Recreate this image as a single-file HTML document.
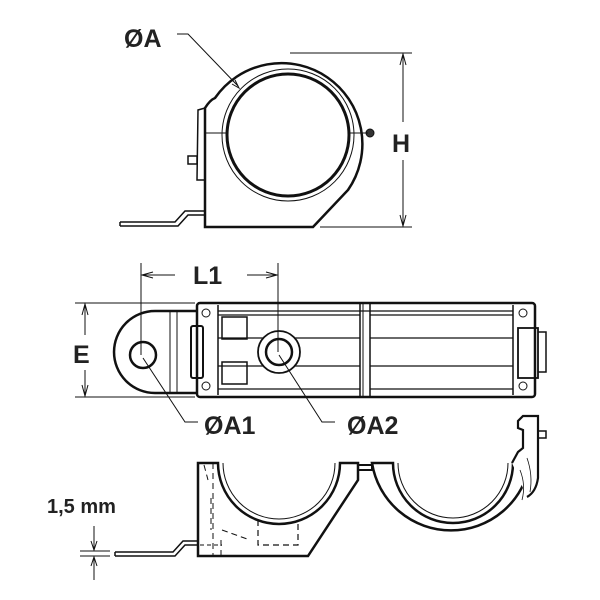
<!DOCTYPE html>
<html><head><style>body{margin:0;background:#fff}svg{display:block}text{font-family:"Liberation Sans",sans-serif;font-weight:bold;fill:#222}</style></head><body>
<svg width="600" height="600" viewBox="0 0 600 600" fill="none" stroke="#111" stroke-width="2">
<!-- TOP VIEW -->
<path d="M205 227 L205 108 Q210 100 215 98 A80 80 0 1 1 348 190 L313 227 Z" stroke-width="2.5" fill="#fff"/>
<circle cx="288" cy="135" r="61" stroke-width="3"/>
<circle cx="288" cy="135" r="66" stroke-width="1"/>
<path d="M205 108 L198 110 L197 180 L205 180" stroke-width="1.5"/>
<rect x="188" y="156" width="9" height="8" stroke-width="1.5"/>
<path d="M120 226 L178 226 L188 215 L205 215 M120 222 L175 222 L185 211 L205 211 M120 222 L120 226" stroke-width="1.5"/>
<circle cx="370" cy="133" r="4" fill="#333" stroke-width="1"/>
<line x1="205" y1="133" x2="227" y2="133" stroke-width="1"/>
<line x1="349" y1="133" x2="368" y2="133" stroke-width="1"/>
<line x1="290" y1="53" x2="412" y2="53" stroke-width="1"/>
<line x1="320" y1="227" x2="412" y2="227" stroke-width="1"/>
<line x1="403" y1="55" x2="403" y2="122" stroke-width="1"/>
<line x1="403" y1="160" x2="403" y2="225" stroke-width="1"/>
<path d="M400 65 L403 54 L406 65 M400 215 L403 226 L406 215" stroke-width="1"/>
<path d="M177 34 L188 34 L238 86" stroke-width="1"/>
<path d="M232 84 L239 88 L235 80" stroke-width="1"/>
<text x="124" y="47" font-size="25" stroke="none">ØA</text>
<text x="392" y="152" font-size="25" stroke="none">H</text>
<!-- MIDDLE VIEW -->
<path d="M197 311 L155 311 A41 41 0 0 0 155 393 L197 393" stroke-width="2.5" fill="#fff"/>
<rect x="197" y="303" width="338" height="94" rx="3" stroke-width="2.5" fill="#fff"/>
<line x1="170" y1="311" x2="170" y2="393" stroke-width="1"/>
<line x1="177" y1="311" x2="177" y2="393" stroke-width="1"/>
<circle cx="143" cy="355" r="13" stroke-width="2.5"/>
<rect x="191" y="326" width="12" height="52" rx="2" stroke-width="2"/>
<line x1="218" y1="305" x2="218" y2="395" stroke-width="1.5"/>
<line x1="513" y1="305" x2="513" y2="395" stroke-width="1.5"/>
<line x1="360" y1="303" x2="360" y2="397" stroke-width="1.5"/>
<line x1="363" y1="303" x2="363" y2="397" stroke-width="1"/>
<line x1="370" y1="303" x2="370" y2="397" stroke-width="1.5"/>
<path d="M218 311 H513 M218 315 H360 M370 315 H513 M218 338 H360 M370 338 H513 M218 366 H360 M370 366 H513 M218 389 H360 M370 389 H513" stroke-width="1.2"/>
<rect x="222" y="317" width="25" height="22" stroke-width="1.5"/>
<rect x="222" y="362" width="25" height="22" stroke-width="1.5"/>
<circle cx="279" cy="352" r="21" stroke-width="1.8" fill="#fff"/>
<circle cx="279" cy="352" r="13" stroke-width="2.5"/>
<circle cx="206" cy="313" r="4" stroke-width="1"/><circle cx="206" cy="386" r="4" stroke-width="1"/>
<circle cx="523" cy="313" r="4" stroke-width="1"/><circle cx="523" cy="386" r="4" stroke-width="1"/>
<rect x="518" y="328" width="20" height="50" stroke-width="1.8"/>
<path d="M538 332 L546 332 L546 372 L538 372" stroke-width="1.5"/>
<line x1="75" y1="303" x2="195" y2="303" stroke-width="1"/>
<line x1="75" y1="397" x2="195" y2="397" stroke-width="1"/>
<line x1="85" y1="305" x2="85" y2="335" stroke-width="1"/>
<line x1="85" y1="370" x2="85" y2="395" stroke-width="1"/>
<path d="M82 315 L85 304 L88 315 M82 385 L85 396 L88 385" stroke-width="1"/>
<text x="73" y="363" font-size="25" stroke="none">E</text>
<line x1="141" y1="263" x2="141" y2="355" stroke-width="1"/>
<line x1="278" y1="263" x2="278" y2="352" stroke-width="1"/>
<path d="M143 275 L175 275 M247 275 L276 275 M153 272 L142 275 L153 278 M266 272 L277 275 L266 278" stroke-width="1"/>
<text x="193" y="284" font-size="25" stroke="none">L1</text>
<path d="M143 358 L185 422 L198 422 M279 355 L322 422 L335 422" stroke-width="1"/>
<text x="204" y="434" font-size="25" stroke="none">ØA1</text>
<text x="347" y="434" font-size="25" stroke="none">ØA2</text>
<!-- BOTTOM VIEW -->
<path d="M198 463 L218 463 A61 61 0 0 0 340 463 L358 463 L358 480 L308 556 L198 556 Z" stroke-width="2.5" fill="#fff"/>
<path d="M223 463 A56 56 0 0 0 335 463" stroke-width="1"/>
<path d="M358 465 L372 465 L372 470 L358 470" stroke-width="2"/>
<path d="M372 463 L393 463 A60 60 0 0 0 513 463 L530 463 A80 80 0 0 1 372 463 Z" stroke-width="2.5" fill="#fff"/>
<path d="M398 463 A55 55 0 0 0 508 463" stroke-width="1"/>
<path d="M512 463 L518 452 L523 448 L523 430 L518 428 L518 421 L523 416 L538 416 L538 478 Q536 492 527 497" stroke-width="2.2" fill="#fff"/>
<path d="M520 470 Q526 485 522 500 M527 458 Q533 475 530 492" stroke-width="0.8"/>
<rect x="538" y="431" width="8" height="7" stroke-width="1.5"/>
<path d="M213 463 V556 M204 465 L208 480 M211 498 V530 M221 540 V556 M222 530 L250 540" stroke-width="1" stroke-dasharray="6 4"/>
<path d="M258 520 L258 545 L298 545 L298 520" stroke-width="1.2" stroke-dasharray="6 4"/>
<path d="M115 556 L175 556 L185 545 L198 545 M115 552 L173 552 L183 541 L198 541 M115 552 L115 556" stroke-width="1.5"/>
<path d="M200 545 L222 545" stroke-width="1" stroke-dasharray="4 3"/>
<line x1="80" y1="551" x2="110" y2="551" stroke-width="1"/>
<line x1="80" y1="556" x2="110" y2="556" stroke-width="1"/>
<path d="M94 526 V550 M94 557 V580 M91 541 L94 550 L97 541 M91 566 L94 557 L97 566" stroke-width="1"/>
<text x="47" y="513" font-size="20" stroke="none">1,5 mm</text>
</svg>
</body></html>
